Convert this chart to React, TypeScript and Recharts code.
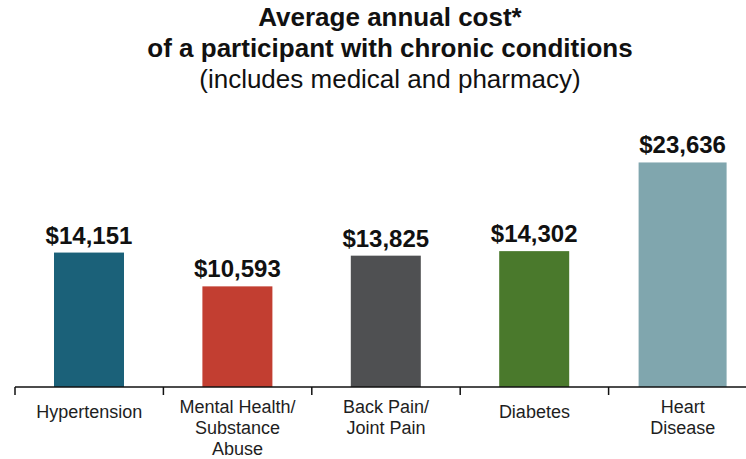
import * as React from "react";
import { BarChart, Bar, XAxis, YAxis, Cell, LabelList } from "recharts";

const categories = [
  ["Hypertension"],
  ["Mental Health/", "Substance", "Abuse"],
  ["Back Pain/", "Joint Pain"],
  ["Diabetes"],
  ["Heart", "Disease"]
];
const costs = [14151, 10593, 13825, 14302, 23636];
const titleLines = [
  "Average annual cost*",
  "of a participant with chronic conditions",
  "(includes medical and pharmacy)"
];

const colors = ["#1b6179", "#c23e31", "#4f5052", "#4a792c", "#80a6ae"];
const barWidths = [70, 70, 70, 70, 88];
const FONT = "'Liberation Sans', Arial, sans-serif";
const CHART_W = 757;
const LEFT = 15;
const BAND = (CHART_W - LEFT) / categories.length;

const data = categories.map((lines, i) => ({
  name: lines.join(" "),
  lines,
  cost: costs[i]
}));

function CategoryTick(props: any) {
  const { x, y, index } = props;
  const lines: string[] = categories[index] || [];
  const first = lines.length > 1 ? 26 : 31;
  return (
    <g>
      <line x1={x - BAND / 2} x2={x - BAND / 2} y1={y} y2={y + 8} stroke="#111" strokeWidth={1.5} />
      <text textAnchor="middle" fontFamily={FONT} fontSize={18} fill="#1e1e1e">
        {lines.map((l, k) => (
          <tspan key={k} x={x} y={y + first + k * 21}>
            {l}
          </tspan>
        ))}
      </text>
    </g>
  );
}

function WideBar(props: any) {
  const { x, y, width, height, fill, index } = props;
  const w = barWidths[index] ?? width;
  return <rect x={x + width / 2 - w / 2} y={y} width={w} height={height} fill={fill} />;
}

export default function App() {
  return (
    <div style={{ position: "absolute", left: 0, top: 0, width: 746, height: 459, overflow: "hidden", background: "#fff" }}>
      <svg width={746} height={100} style={{ position: "absolute", left: 0, top: 0 }}>
        {titleLines.map((t, i) => (
          <text
            key={i}
            x={390}
            y={26 + i * 31}
            textAnchor="middle"
            fontFamily={FONT}
            fontSize={26}
            fontWeight={i < 2 ? "bold" : "normal"}
            fill="#111"
          >
            {t}
          </text>
        ))}
      </svg>
      <BarChart
        width={CHART_W}
        height={459}
        data={data}
        margin={{ top: 121, right: 0, left: LEFT, bottom: 0 }}
      >
        <YAxis hide domain={[0, 28000]} />
        <XAxis
          dataKey="name"
          height={72}
          interval={0}
          tickLine={false}
          tickSize={0}
          tickMargin={0}
          axisLine={{ stroke: "#111", strokeWidth: 1.5 }}
          tick={<CategoryTick />}
        />
        <Bar dataKey="cost" barSize={70} isAnimationActive={false} shape={<WideBar />}>
          {data.map((d, i) => (
            <Cell key={d.name} fill={colors[i]} />
          ))}
          <LabelList
            dataKey="cost"
            position="top"
            offset={9}
            formatter={(v: any) => "$" + Number(v).toLocaleString("en-US")}
            style={{ fontFamily: FONT, fontSize: 24, fontWeight: "bold", fill: "#111" }}
          />
        </Bar>
      </BarChart>
    </div>
  );
}
